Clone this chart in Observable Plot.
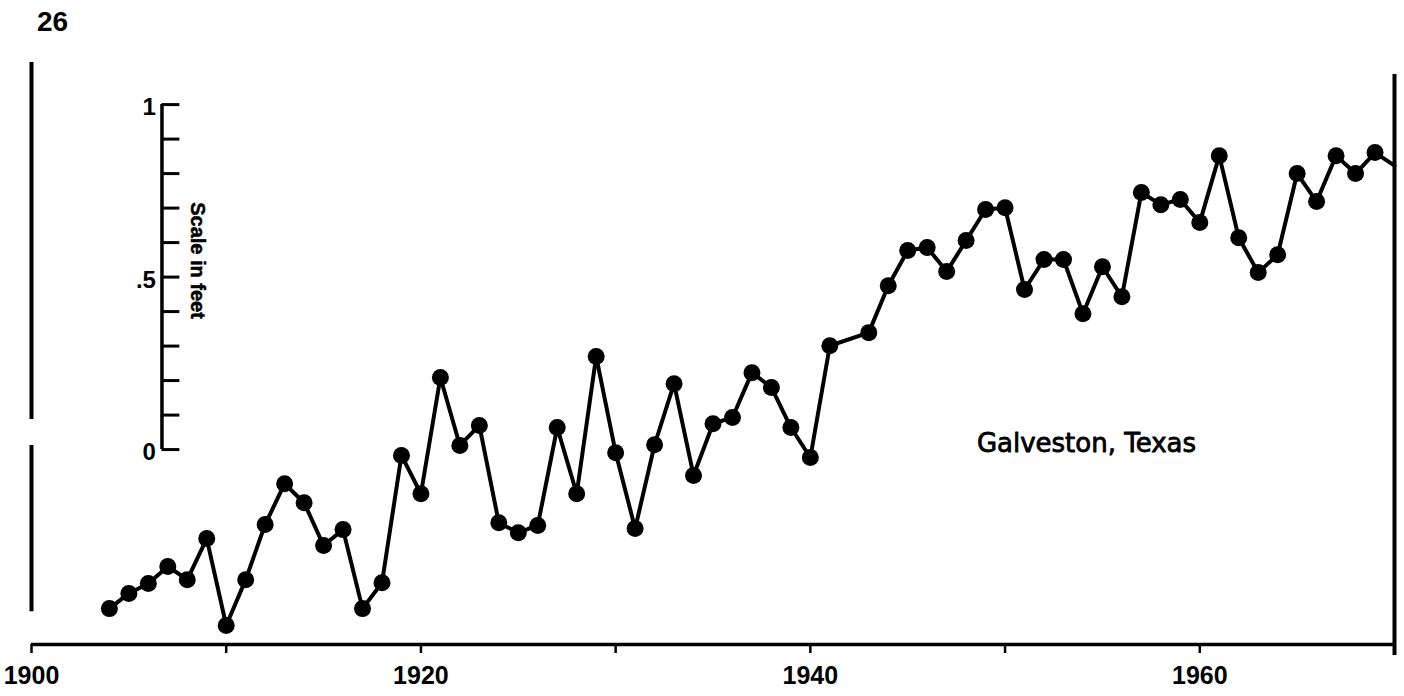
<!DOCTYPE html>
<html>
<head>
<meta charset="utf-8">
<script src="https://cdn.jsdelivr.net/npm/d3@7"></script>
<script src="https://cdn.jsdelivr.net/npm/@observablehq/plot@0.6"></script>
<style>
  html, body { margin: 0; padding: 0; background: #fff; }
  #chart svg { display: block; }
</style>
</head>
<body>
<div id="chart"></div>
<script>
// Years of observation (1942 missing in the record)
const years = [
  1904, 1905, 1906, 1907, 1908, 1909, 1910, 1911, 1912, 1913,
  1914, 1915, 1916, 1917, 1918, 1919, 1920, 1921, 1922, 1923,
  1924, 1925, 1926, 1927, 1928, 1929, 1930, 1931, 1932, 1933,
  1934, 1935, 1936, 1937, 1938, 1939, 1940, 1941, 1943, 1944,
  1945, 1946, 1947, 1948, 1949, 1950, 1951, 1952, 1953, 1954,
  1955, 1956, 1957, 1958, 1959, 1960, 1961, 1962, 1963, 1964,
  1965, 1966, 1967, 1968, 1969, 1970
];
// Annual mean sea level, feet (relative to the inset scale's 0)
const levels = [
  -0.461, -0.417, -0.388, -0.339, -0.377, -0.258, -0.510, -0.377, -0.217, -0.099,
  -0.154, -0.278, -0.232, -0.461, -0.386, -0.017, -0.128, 0.209, 0.012, 0.070,
  -0.212, -0.241, -0.220, 0.064, -0.128, 0.270, -0.009, -0.229, 0.014, 0.191,
  -0.075, 0.075, 0.093, 0.223, 0.180, 0.064, -0.023, 0.301, 0.339, 0.475,
  0.577, 0.586, 0.516, 0.606, 0.696, 0.701, 0.464, 0.551, 0.551, 0.394,
  0.530, 0.443, 0.745, 0.710, 0.725, 0.658, 0.852, 0.614, 0.513, 0.565,
  0.800, 0.719, 0.852, 0.800, 0.861, 0.823
];
// Axis ticks and labels
const xTicks = [1900, 1910, 1920, 1930, 1940, 1950, 1960, 1970];
const xLabels = [1900, 1920, 1940, 1960];
const scaleTicks = [0, 0.1, 0.2, 0.3, 0.4, 0.5, 0.6, 0.7, 0.8, 0.9, 1];
const scaleLabelValues = [0, 0.5, 1];
const scaleLabelText = ["0", ".5", "1"];
const scaleTitle = "Scale in feet";
const stationName = "Galveston, Texas";
const pageNumber = "26";

const data = years.map((year, i) => ({year, level: levels[i]}));
const scaleLabels = scaleLabelValues.map((v, i) => ({v, t: scaleLabelText[i]}));

const yMin = -0.565, yMax = 1.122;
const scaleYear = 1906.7;
const leftFrame = [[yMax, 0.087], [0.012, -0.47]];

const boldFont = "'Liberation Sans', Arial, sans-serif";

const chart = Plot.plot({
  width: 1404,
  height: 696,
  marginLeft: 31,
  marginRight: 10,
  marginTop: 62,
  marginBottom: 52,
  style: {background: "#fff", color: "#000", fontFamily: boldFont},
  x: {domain: [1900, 1970], axis: null},
  y: {domain: [yMin, yMax], axis: null},
  marks: [
    // bottom axis line and ticks
    Plot.ruleY([yMin], {x1: 1900, x2: 1970, stroke: "#000", strokeWidth: 3.5}),
    Plot.axisX({
      ticks: xTicks,
      tickSize: 9,
      tickPadding: 13,
      strokeWidth: 2.5,
      label: null,
      tickFormat: d => xLabels.includes(d) ? String(d) : "",
      fontSize: 25,
      fontWeight: "bold",
      fontFamily: boldFont
    }),
    // left and right frame lines
    Plot.ruleX(leftFrame, {x: () => 1900, y1: d => d[0], y2: d => d[1], stroke: "#000", strokeWidth: 4}),
    Plot.ruleX([1970], {y1: 1.087, y2: -0.597, stroke: "#000", strokeWidth: 4}),
    // inset scale
    Plot.ruleX([scaleYear], {y1: 0, y2: 1, stroke: "#000", strokeWidth: 3.5}),
    Plot.ruleY(scaleTicks, {x1: scaleYear, x2: scaleYear + 0.92, stroke: "#000", strokeWidth: 3}),
    Plot.text(scaleLabels, {x: scaleYear, y: "v", text: "t", textAnchor: "end", dx: -6, dy: 3,
      fontSize: 24, fontWeight: "bold", fontFamily: boldFont, fill: "#000"}),
    Plot.text([scaleTitle], {x: scaleYear + 1.8, y: 0.548, rotate: 90, fontSize: 20, fontWeight: "bold",
      fontFamily: boldFont, fill: "#000", stroke: "#000", strokeWidth: 0.5, style: "letter-spacing: 2.5px"}),
    // data
    Plot.line(data, {x: "year", y: "level", stroke: "#000", strokeWidth: 4, strokeLinejoin: "round"}),
    Plot.dot(data.filter(d => d.year < 1970), {x: "year", y: "level", r: 8.5, fill: "#000", stroke: "none"}),
    // annotations
    Plot.text([stationName], {frameAnchor: "top-left", dx: 1055, dy: 381, textAnchor: "middle", lineAnchor: "middle",
      fontSize: 26, fontFamily: "'DejaVu Sans', sans-serif", fill: "#000", stroke: "#000", strokeWidth: 0.8}),
    Plot.text([pageNumber], {frameAnchor: "top-left", dx: 21, dy: -40, textAnchor: "middle", lineAnchor: "middle",
      fontSize: 28, fontWeight: "bold", fontFamily: boldFont, fill: "#000"})
  ]
});

document.getElementById("chart").appendChild(chart);
</script>
</body>
</html>
